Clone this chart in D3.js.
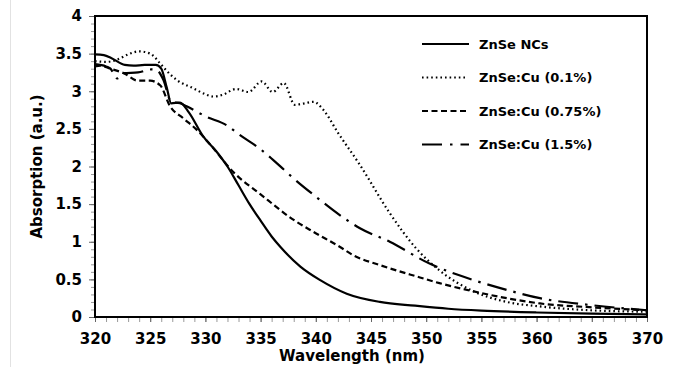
<!DOCTYPE html>
<html>
<head>
<meta charset="utf-8">
<script src="https://cdn.jsdelivr.net/npm/d3@7"></script>
<style>
	body { margin: 0; background: #fff; }
	svg { display: block; font-family: "DejaVu Sans", sans-serif; }
</style>
</head>
<body>
<div id="chart"></div>
<script>
// ZnSe NCs
let ncsX = [320, 320.8, 321.5, 322.7, 323.5, 324.5, 325.5, 326, 326.5, 326.9, 327.7, 328.5, 329.8, 331, 332, 333, 334, 335, 336, 336.8, 338.6, 340.4, 342.8, 345.8, 349, 352, 355, 360, 365, 370];
let ncsY = [3.49, 3.48, 3.44, 3.35, 3.34, 3.35, 3.35, 3.3, 3.05, 2.84, 2.85, 2.72, 2.4, 2.2, 2, 1.75, 1.5, 1.28, 1.07, 0.93, 0.67, 0.49, 0.31, 0.2, 0.15, 0.11, 0.085, 0.06, 0.045, 0.035];

// ZnSe:Cu (0.1%)
let cu01X = [320, 321, 322, 323, 324, 325, 325.9, 326.5, 327.4, 328.9, 330, 330.7, 331.5, 332.8, 333.9, 335.1, 336.1, 337.1, 338.1, 339, 339.8, 340.7, 342, 344, 346.7, 349.1, 351.2, 354.3, 357.3, 360.3, 364.8, 370];
let cu01Y = [3.4, 3.39, 3.42, 3.49, 3.53, 3.5, 3.37, 3.27, 3.15, 3.04, 2.96, 2.93, 2.95, 3.03, 2.99, 3.13, 2.99, 3.11, 2.82, 2.84, 2.86, 2.75, 2.45, 2.02, 1.38, 0.91, 0.62, 0.34, 0.2, 0.14, 0.09, 0.07];

// ZnSe:Cu (0.75%)
let cu075X = [320, 320.5, 321.4, 322.6, 323.9, 325, 325.9, 326.8, 328, 329.2, 330.5, 332.5, 335, 338, 339.8, 342.2, 343.4, 345.8, 349.1, 351.2, 354.3, 357.3, 360.3, 364.8, 370];
let cu075Y = [3.33, 3.34, 3.3, 3.24, 3.14, 3.14, 3.08, 2.8, 2.64, 2.49, 2.28, 1.93, 1.63, 1.29, 1.13, 0.93, 0.82, 0.69, 0.54, 0.45, 0.34, 0.25, 0.18, 0.13, 0.09];

// ZnSe:Cu (1.5%)
let cu15X = [320, 321, 321.4, 322, 322.6, 323.9, 325.1, 325.6, 326.2, 326.9, 327.7, 328.3, 330.1, 331.9, 333.1, 334.9, 337.1, 338, 340, 342.6, 344, 346.7, 350.3, 354.3, 357.3, 360.3, 364.8, 370];
let cu15Y = [3.36, 3.33, 3.3, 3.17, 3.24, 3.25, 3.29, 3.28, 3.15, 2.86, 2.84, 2.8, 2.66, 2.55, 2.42, 2.24, 1.96, 1.84, 1.6, 1.31, 1.18, 1, 0.71, 0.49, 0.36, 0.25, 0.16, 0.09];

let seriesNames = ["ZnSe NCs", "ZnSe:Cu (0.1%)", "ZnSe:Cu (0.75%)", "ZnSe:Cu (1.5%)"];
let xTicks = [320, 325, 330, 335, 340, 345, 350, 355, 360, 365, 370];
let yTicks = [0, 0.5, 1, 1.5, 2, 2.5, 3, 3.5, 4];

let DASHES = [null, "1.6,3", "6,3.5", "20,7,2.5,7"];
let BOLD = "bold 15px 'DejaVu Sans', sans-serif";

let WIDTH = 673;
let HEIGHT = 367;
let margin = { left: 95, top: 16, right: 26, bottom: 50 };

let series = [[ncsX, ncsY], [cu01X, cu01Y], [cu075X, cu075Y], [cu15X, cu15Y]].
	map(([xs, ys], i) => ({ name: seriesNames[i], dash: DASHES[i], values: xs.map((x, j) => [x, ys[j]]) }));

let svg = d3.select("#chart").append("svg").
	attr("width", WIDTH).
	attr("height", HEIGHT);

// faint border line of the original figure
svg.append("line").
	attr("x1", 10.5).attr("x2", 10.5).
	attr("y1", 0).attr("y2", HEIGHT).
	attr("stroke", "#e2e2e2");

let x = d3.scaleLinear().domain([320, 370]).range([margin.left, WIDTH - margin.right]);
let y = d3.scaleLinear().domain([0, 4]).range([HEIGHT - margin.bottom, margin.top]);

// minor ticks
svg.append("g").
	attr("transform", `translate(0, ${y(0)})`).
	call(d3.axisBottom(x).tickValues(d3.range(320, 371, 1)).tickSize(5).tickFormat("")).
	call(g => g.select(".domain").remove()).
	call(g => g.selectAll("line").attr("stroke", "#999"));

svg.append("g").
	attr("transform", `translate(${x(320)}, 0)`).
	call(d3.axisLeft(y).tickValues(d3.range(0, 41).map(d => d / 10)).tickSize(4).tickFormat("")).
	call(g => g.select(".domain").remove()).
	call(g => g.selectAll("line").attr("stroke", "#999"));

// major ticks + labels
svg.append("g").
	attr("transform", `translate(0, ${y(0)})`).
	call(d3.axisBottom(x).tickValues(xTicks).tickSize(5).tickPadding(11)).
	call(g => g.select(".domain").remove()).
	call(g => g.selectAll("line").attr("stroke", "#666")).
	call(g => g.selectAll("text").
		attr("fill", "#000").
		style("font", BOLD));

svg.append("g").
	attr("transform", `translate(${x(320)}, 0)`).
	call(d3.axisLeft(y).tickValues(yTicks).tickSize(6).tickPadding(7).tickFormat(d => d)).
	call(g => g.select(".domain").remove()).
	call(g => g.selectAll("line").attr("stroke", "#666")).
	call(g => g.selectAll("text").
		attr("fill", "#000").
		style("font", BOLD));

// plot frame
svg.append("rect").
	attr("x", x(320)).
	attr("y", y(4)).
	attr("width", x(370) - x(320)).
	attr("height", y(0) - y(4)).
	attr("fill", "none").
	attr("stroke", "#000").
	attr("stroke-width", 2);

let line = d3.line().
	x(d => x(d[0])).
	y(d => y(d[1])).
	curve(d3.curveMonotoneX);

svg.append("g").
	attr("fill", "none").
	attr("stroke", "#000").
	attr("stroke-width", 2.2).
	selectAll("path").
	data(series).
	join("path").
	attr("d", d => line(d.values)).
	attr("stroke-dasharray", d => d.dash);

// legend
let legend = svg.append("g").
	attr("transform", "translate(422, 44)");

let row = legend.selectAll("g").
	data(series).
	join("g").
	attr("transform", (d, i) => `translate(0, ${i * 33.5})`);

row.append("line").
	attr("x1", 0).
	attr("x2", (d, i) => i === 1 ? 45 : 47).
	attr("stroke", "#000").
	attr("stroke-width", 2.2).
	attr("stroke-dasharray", (d, i) => i === 3 ? "20,8,2.5,8" : d.dash);

row.append("text").
	attr("x", 57).
	attr("dy", "0.36em").
	style("font", "bold 13px 'DejaVu Sans', sans-serif").
	text(d => d.name);

// axis titles
svg.append("text").
	attr("x", 352).
	attr("y", 361).
	attr("text-anchor", "middle").
	style("font", BOLD).
	text("Wavelength (nm)");

svg.append("text").
	attr("transform", `translate(42, ${(y(0) + y(4)) / 2}) rotate(-90)`).
	attr("text-anchor", "middle").
	style("font", BOLD).
	text("Absorption (a.u.)");
</script>
</body>
</html>
